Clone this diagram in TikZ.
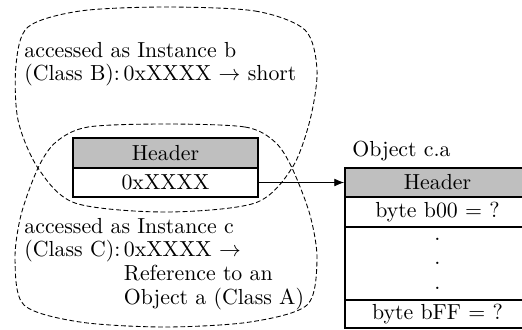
\documentclass[tikz,border=0pt]{standalone}
\usetikzlibrary{arrows.meta}
\begin{document}
\begin{tikzpicture}[x=0.4587pt,y=-0.4587pt,
  cell/.style={draw, thick, minimum width=84.9pt, inner sep=0pt, anchor=center},
  hdr/.style={cell, fill=gray!50},
  blob/.style={dash pattern=on 2.2pt off 1.2pt, thin},
  lbl/.style={inner sep=0pt, anchor=base west, font=\fontsize{10}{11}\selectfont}]
\clip (0,0) rectangle (522,329);
% left object
\node[hdr, minimum height=13.76pt] (ihdr) at (165.5,153) {Header};
\node[cell, minimum height=13.3pt] (ival) at (165.5,182.5) {0xXXXX};
% right object
\node[hdr, minimum height=13.3pt] (rhdr) at (437.5,182.5) {Header};
\node[cell, minimum height=13.76pt] (rb00) at (437.5,212) {byte b00 = ?};
\node[cell, minimum height=33.5pt, align=center, font=\fontsize{10}{11.2}\selectfont] (rdots) at (437.5,263.5) {.\\.\\.};
\node[cell, minimum height=12.84pt] (rbff) at (437.5,314) {byte bFF = ?};
\node[lbl] (olbl) at (352,156) {Object c.a};
% arrow
\draw[-{Latex[length=4.5pt,width=3.6pt]}] (ival.east) -- (rhdr.west);
% text blocks
\node[lbl] (tb) at (24,57) {\renewcommand\arraystretch{1}\begin{tabular}[t]{@{}l@{\,}l@{}}
\multicolumn{2}{@{}l@{}}{accessed as Instance b}\\
(Class B): & 0xXXXX $\rightarrow$ short
\end{tabular}};
\node[lbl] (tc) at (24,233) {\renewcommand\arraystretch{1}\begin{tabular}[t]{@{}l@{\,}l@{}}
\multicolumn{2}{@{}l@{}}{accessed as Instance c}\\
(Class C): & 0xXXXX $\rightarrow$\\
 & Reference to an\\
 & Object a (Class A)
\end{tabular}};
% dashed regions
\draw[blob] plot[smooth cycle] coordinates {(165,7) (255,11) (305,30) (317,70) (310,120) (292,168) (255,203) (165,212) (75,203) (38,168) (18,120) (16,65) (28,27) (80,11)};
\draw[blob] plot[smooth cycle] coordinates {(165,124) (245,127) (275,142) (292,168) (310,215) (317,260) (307,305) (250,322) (165,327) (80,322) (24,305) (15,260) (21,215) (38,168) (56,142) (88,127)};
\end{tikzpicture}
\end{document}
